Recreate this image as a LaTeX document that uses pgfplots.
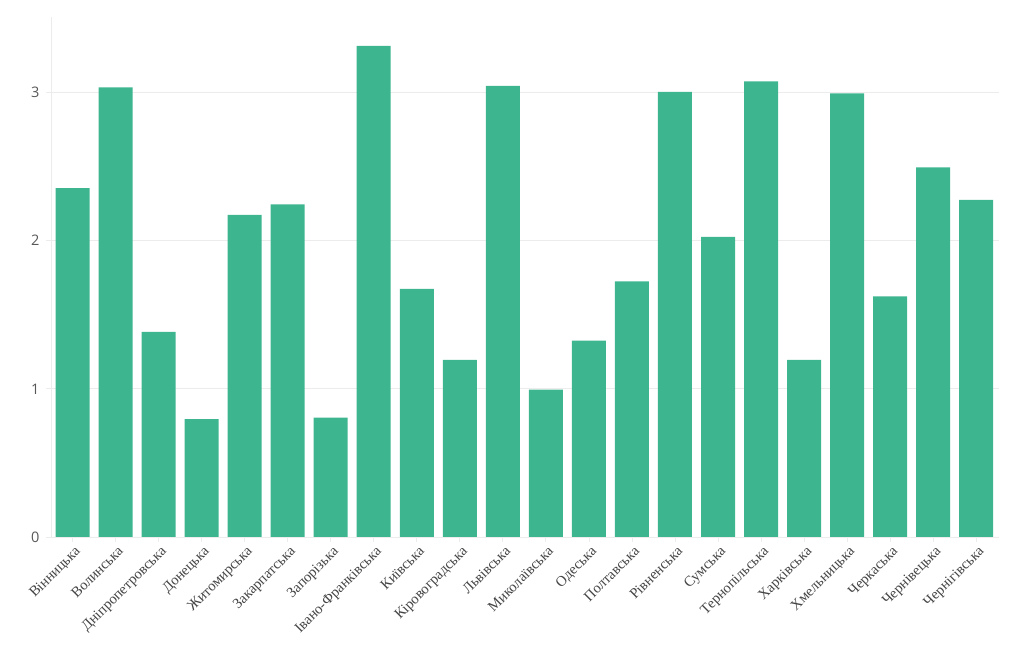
\documentclass[border=0pt]{standalone}
\usepackage{pgfplots}
\pgfplotsset{compat=1.18}
\usepackage{fontspec}
\setmainfont{Liberation Serif}
\newfontfamily\ticksans{Open Sans}
\definecolor{barcol}{HTML}{3DB68F}
\definecolor{gridcol}{HTML}{ECECEC}
\definecolor{labcol}{HTML}{444444}

\begin{document}
\begin{tikzpicture}
\path[use as bounding box] (-51pt,-113pt) rectangle (969pt,537pt);
\begin{axis}[
  at={(0pt,0pt)}, anchor=south west,
  scale only axis,
  width=948pt, height=520pt,
  xmin=-0.5, xmax=21.53,
  ymin=0, ymax=3.51,
  ybar, bar width=34pt,
  axis x line=bottom, axis y line=left,
  axis line style={draw=gridcol, -},
  ymajorgrids, grid style={gridcol, line width=0.8pt},
  ytick={0,1,2,3},
  xtick=data,
  xticklabels={Вінницька,Волинська,Дніпропетровська,Донецька,Житомирська,Закарпатська,Запорізька,Івано-Франківська,Київська,Кіровоградська,Львівська,Миколаївська,Одеська,Полтавська,Рівненська,Сумська,Тернопільська,Харківська,Хмельницька,Черкаська,Чернівецька,Чернігівська},
  tick align=outside, major tick length=5pt,
  tick style={gridcol, line width=0.8pt},
  x tick label style={rotate=45, anchor=north east, font=\fontsize{14.6}{14.6}\selectfont, text=labcol, inner sep=1pt, yshift=-2pt},
  y tick label style={font=\ticksans\fontsize{14.5}{14.5}\selectfont, text=labcol!90, xshift=-3pt},
  /pgf/number format/assume math mode=true,
]
\addplot[fill=barcol, draw=none] coordinates {
 (0,2.355) (1,3.035) (2,1.385) (3,0.795) (4,2.175) (5,2.245) (6,0.805) (7,3.315)
 (8,1.675) (9,1.195) (10,3.045) (11,0.995) (12,1.325) (13,1.725) (14,3.005) (15,2.025)
 (16,3.075) (17,1.195) (18,2.995) (19,1.625) (20,2.495) (21,2.275)
};
\end{axis}
\end{tikzpicture}
\end{document}
